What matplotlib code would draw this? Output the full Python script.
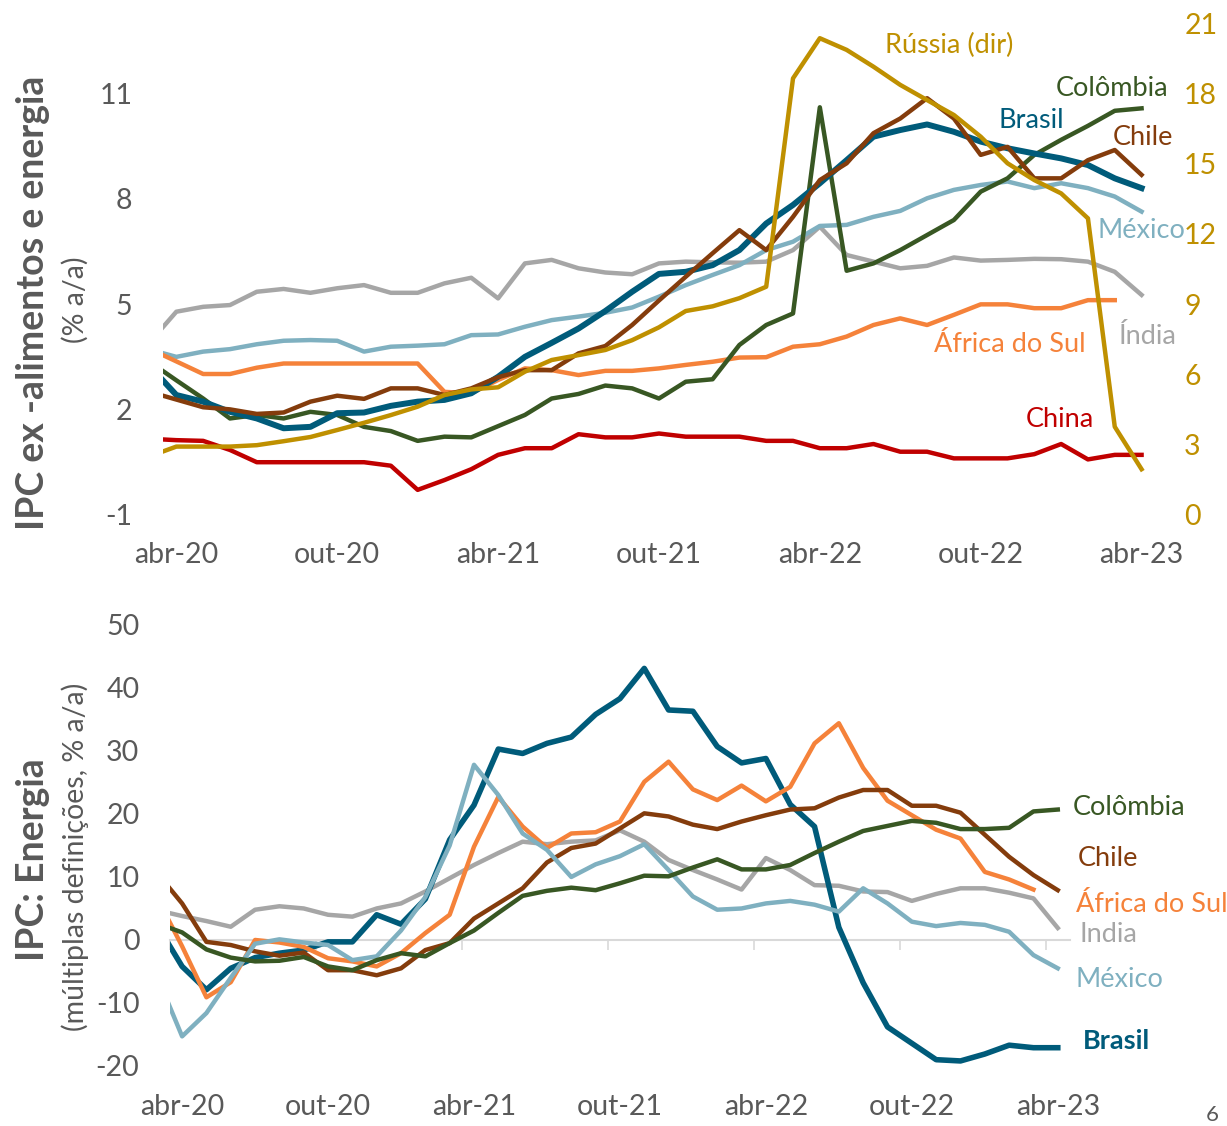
import numpy as np
import matplotlib.pyplot as plt

plt.rcParams['font.family'] = ['Lato', 'DejaVu Sans']
plt.rcParams['axes.unicode_minus'] = False

# months from mar-20 (-1) to abr-23 (36), index 0 = abr-20
months = np.arange(-1, 37)
tick_pos = [0, 6, 12, 18, 24, 30, 36]
tick_lab = ["abr-20", "out-20", "abr-21", "out-21", "abr-22", "out-22", "abr-23"]
nan = np.nan

# --- top: core CPI (% a/a), Russia on right axis
brasil_core = [3.23, 2.4, 2.21, 1.92, 1.73, 1.45, 1.49, 1.88, 1.9, 2.09, 2.21, 2.26, 2.45, 2.92, 3.49, 3.89, 4.3, 4.8, 5.35,
               5.86, 5.92, 6.11, 6.54, 7.3, 7.83, 8.45, 9.11, 9.78, 9.97, 10.13, 9.92, 9.64, 9.45, 9.3, 9.16, 8.97, 8.59, 8.31]
mexico_core = [3.7, 3.49, 3.64, 3.71, 3.85, 3.95, 3.97, 3.95, 3.64, 3.78, 3.81, 3.85, 4.11, 4.13, 4.35, 4.54, 4.64, 4.75, 4.9,
               5.21, 5.54, 5.83, 6.11, 6.54, 6.78, 7.23, 7.26, 7.49, 7.66, 8.02, 8.26, 8.4, 8.5, 8.31, 8.45, 8.31, 8.07, 7.64]
africa_core = [3.72, 3.36, 3.0, 3.0, 3.18, 3.3, 3.3, 3.3, 3.3, 3.3, 3.3, 2.49, 2.45, 2.83, 3.16, 3.11, 2.97, 3.09, 3.09,
               3.16, 3.26, 3.35, 3.47, 3.48, 3.78, 3.85, 4.07, 4.4, 4.59, 4.4, 4.69, 4.99, 4.99, 4.88, 4.88, 5.11, 5.11, nan]
chile_core = [2.49, 2.27, 2.05, 1.99, 1.86, 1.9, 2.21, 2.38, 2.29, 2.59, 2.59, 2.4, 2.59, 2.91, 3.11, 3.11, 3.59, 3.8, 4.4,
              5.1, 5.78, 6.45, 7.11, 6.54, 7.49, 8.54, 9.02, 9.88, 10.3, 10.88, 10.3, 9.26, 9.49, 8.59, 8.59, 9.11, 9.4, 8.69]
colombia_core = [3.35, 2.82, 2.3, 1.73, 1.83, 1.73, 1.92, 1.83, 1.49, 1.37, 1.09, 1.21, 1.19, 1.51, 1.83, 2.3, 2.43, 2.67, 2.59,
                 2.3, 2.78, 2.85, 3.83, 4.4, 4.73, 10.62, 5.95, 6.16, 6.54, 6.97, 7.4, 8.21, 8.59, 9.26, 9.69, 10.09, 10.52, 10.59]
china_core = [1.15, 1.11, 1.09, 0.83, 0.48, 0.48, 0.48, 0.48, 0.48, 0.38, -0.31, -0.03, 0.28, 0.69, 0.88, 0.88, 1.28, 1.19, 1.19,
              1.3, 1.21, 1.21, 1.21, 1.09, 1.09, 0.88, 0.88, 1.0, 0.78, 0.78, 0.59, 0.59, 0.59, 0.71, 1.0, 0.56, 0.69, 0.69]
india_core = [3.9, 4.78, 4.92, 4.97, 5.35, 5.43, 5.32, 5.45, 5.54, 5.32, 5.32, 5.59, 5.75, 5.16, 6.16, 6.26, 6.02, 5.9, 5.85,
              6.16, 6.21, 6.19, 6.18, 6.21, 6.54, 7.21, 6.4, 6.21, 6.02, 6.09, 6.33, 6.24, 6.26, 6.29, 6.28, 6.21, 5.92, 5.26]
russia_core = [2.47, 2.89, 2.89, 2.89, 2.95, 3.12, 3.3, 3.6, 3.91, 4.24, 4.6, 5.1, 5.34, 5.43, 6.1, 6.6, 6.81, 7.03, 7.45,
               8.0, 8.7, 8.9, 9.25, 9.74, 18.67, 20.39, 19.89, 19.17, 18.39, 17.74, 17.1, 16.17, 15.03, 14.31, 13.74, 12.67, 3.74, 1.92]

# --- bottom: energy CPI
brasil_energy = [2.2, -4.2, -7.9, -4.5, -2.8, -2.1, -1.6, -0.3, -0.3, 4.0, 2.5, 6.5, 15.9, 21.4, 30.3, 29.6, 31.2, 32.2, 35.8,
                 38.3, 43.1, 36.5, 36.3, 30.7, 28.1, 28.8, 21.5, 18.0, 2.0, -6.8, -13.8, -16.4, -19.0, -19.2, -18.1, -16.7, -17.1, -17.1]
mexico_energy = [-6.0, -15.3, -11.6, -6.0, -0.6, 0.1, -0.4, -0.8, -3.2, -2.6, 1.5, 6.8, 15.0, 27.8, 23.0, 16.9, 14.3, 10.0, 12.0,
                 13.3, 15.2, 11.1, 6.9, 4.8, 5.0, 5.8, 6.2, 5.6, 4.5, 8.2, 5.8, 2.9, 2.2, 2.7, 2.4, 1.3, -2.4, -4.5]
india_energy = [4.7, 3.8, 3.0, 2.1, 4.8, 5.35, 5.0, 4.0, 3.7, 5.0, 5.8, 7.7, 9.8, 11.9, 13.8, 15.6, 15.2, 15.6, 15.8,
                17.4, 15.6, 12.7, 11.1, 9.6, 8.0, 13.0, 11.1, 8.7, 8.6, 7.7, 7.6, 6.2, 7.3, 8.2, 8.2, 7.5, 6.6, 1.9]
africa_energy = [6.5, -1.0, -9.1, -6.7, 0.0, -0.4, -1.1, -2.9, -3.4, -4.2, -2.1, 1.1, 4.0, 14.8, 22.7, 18.0, 14.6, 16.9, 17.1,
                 18.8, 25.1, 28.3, 23.9, 22.2, 24.5, 22.0, 24.3, 31.2, 34.4, 27.3, 22.1, 19.8, 17.5, 16.1, 10.8, 9.6, 8.0, nan]
chile_energy = [10.5, 5.8, -0.3, -0.8, -1.8, -2.5, -2.0, -4.8, -4.8, -5.6, -4.5, -1.6, -0.5, 3.4, 5.8, 8.2, 12.3, 14.6, 15.3,
                17.7, 20.1, 19.6, 18.3, 17.6, 18.8, 19.8, 20.7, 20.9, 22.6, 23.8, 23.8, 21.3, 21.3, 20.2, 16.7, 13.2, 10.3, 7.9]
colombia_energy = [2.6, 1.2, -1.5, -2.8, -3.4, -3.3, -2.7, -4.2, -4.8, -3.2, -2.1, -2.6, -0.5, 1.5, 4.3, 7.0, 7.8, 8.3, 7.9,
                   9.0, 10.2, 10.1, 11.5, 12.8, 11.2, 11.2, 11.9, 13.8, 15.6, 17.3, 18.1, 18.9, 18.6, 17.6, 17.6, 17.8, 20.4, 20.7]

C_BR = "#005B7A"
C_MX = "#7FB0C0"
C_ZA = "#F5823A"
C_CL = "#843C0C"
C_CO = "#385723"
C_CN = "#C00000"
C_IN = "#A6A6A6"
C_RU = "#BF9000"
GREY = "#595959"
FS = 20.5      # tick labels
FL = 19.5      # series labels

fig = plt.figure(figsize=(12.27, 11.26), dpi=100)

# ---------------- top panel
ax = fig.add_axes([0.1328, 0.5435, 0.8085, 0.4352])
lw = 3.2
ax.plot(months, india_core, color=C_IN, lw=lw)
ax.plot(months, mexico_core, color=C_MX, lw=lw)
ax.plot(months, africa_core, color=C_ZA, lw=lw)
ax.plot(months, china_core, color=C_CN, lw=lw)
ax.plot(months, colombia_core, color=C_CO, lw=lw)
ax.plot(months, brasil_core, color=C_BR, lw=4.3)
ax.plot(months, chile_core, color=C_CL, lw=lw)
ax.set_xlim(-0.5, 36.5)
ax.set_ylim(-1, 13)
ax.set_yticks([-1, 2, 5, 8, 11])
ax.set_xticks(tick_pos)
ax.set_xticklabels(tick_lab)
for s in ax.spines.values():
    s.set_visible(False)
ax.tick_params(axis="both", length=0, labelsize=FS, labelcolor=GREY)
ax.tick_params(axis="x", pad=20)
ax.tick_params(axis="y", pad=22)

ax2 = ax.twinx()
ax2.plot(months, russia_core, color=C_RU, lw=lw)
ax2.set_ylim(0, 21)
ax2.set_yticks(range(0, 22, 3))
for s in ax2.spines.values():
    s.set_visible(False)
ax2.tick_params(axis="y", length=0, labelsize=FS, labelcolor=C_RU, pad=21)

ax.text(-0.131, 0.43, "IPC ex -alimentos e energia", transform=ax.transAxes, rotation=90,
        ha="center", va="center", fontsize=27, fontweight="bold", color=GREY)
ax.text(-0.0887, 0.437, "(% a/a)", transform=ax.transAxes, rotation=90, ha="center", va="center",
        fontsize=20.5, color=GREY)

top_labels = [("Rússia (dir)", 28.84, 12.4, C_RU), ("Colômbia", 34.9, 11.17, C_CO), ("Brasil", 31.9, 10.23, C_BR),
              ("Chile", 36.04, 9.77, C_CL), ("México", 36.0, 7.09, C_MX), ("Índia", 36.2, 4.06, C_IN),
              ("África do Sul", 31.08, 3.83, C_ZA), ("China", 32.95, 1.71, C_CN)]
for txt, xx, yy, c in top_labels:
    ax.text(xx, yy, txt, color=c, fontsize=FL, ha="center", va="center")

# ---------------- bottom panel
bx = fig.add_axes([0.1385, 0.0533, 0.7335, 0.3917])
bx.plot(months, india_energy, color=C_IN, lw=lw)
bx.plot(months, brasil_energy, color=C_BR, lw=4.0)
bx.plot(months, africa_energy, color=C_ZA, lw=lw)
bx.plot(months, chile_energy, color=C_CL, lw=lw)
bx.plot(months, mexico_energy, color=C_MX, lw=lw)
bx.plot(months, colombia_energy, color=C_CO, lw=lw)
bx.set_xlim(-0.5, 36.5)
bx.set_ylim(-20, 50)
bx.set_yticks(range(-20, 51, 10))
bx.set_xticks(tick_pos)
bx.set_xticklabels(tick_lab)
for s in bx.spines.values():
    s.set_visible(False)
bx.tick_params(axis="both", length=0, labelsize=FS, labelcolor=GREY)
bx.tick_params(axis="x", pad=20)
bx.tick_params(axis="y", pad=22)

# zero line with half-year tick marks
zero = bx.secondary_xaxis(20 / 70)
zero.set_xticks(np.arange(-0.5, 37, 6))
zero.set_xticklabels([])
zero.spines["bottom"].set_color("#D9D9D9")
zero.spines["bottom"].set_linewidth(1.5)
zero.tick_params(axis="x", length=7, width=1.2, color="#D9D9D9", direction="out")
zero.set_zorder(0)

bx.text(-0.152, 0.467, "IPC: Energia", transform=bx.transAxes, rotation=90,
        ha="center", va="center", fontsize=27, fontweight="bold", color=GREY)
bx.text(-0.1056, 0.474, "(múltiplas definições, % a/a)", transform=bx.transAxes, rotation=90,
        ha="center", va="center", fontsize=20.5, color=GREY)

bot_labels = [("Colômbia", 36.62, 21.1, C_CO, "normal"), ("Chile", 36.83, 13.0, C_CL, "normal"),
              ("África do Sul", 36.74, 5.56, C_ZA, "normal"), ("India", 36.9, 0.8, C_IN, "normal"),
              ("México", 36.74, -6.35, C_MX, "normal"), ("Brasil", 37.03, -16.0, C_BR, "bold")]
for txt, xx, yy, c, w in bot_labels:
    bx.text(xx, yy, txt, color=c, fontsize=FL, ha="left", va="center", fontweight=w)

fig.text(0.988, 0.001, "6", ha="center", va="bottom", fontsize=16, color=GREY)

fig.savefig("out.png", dpi=100)
